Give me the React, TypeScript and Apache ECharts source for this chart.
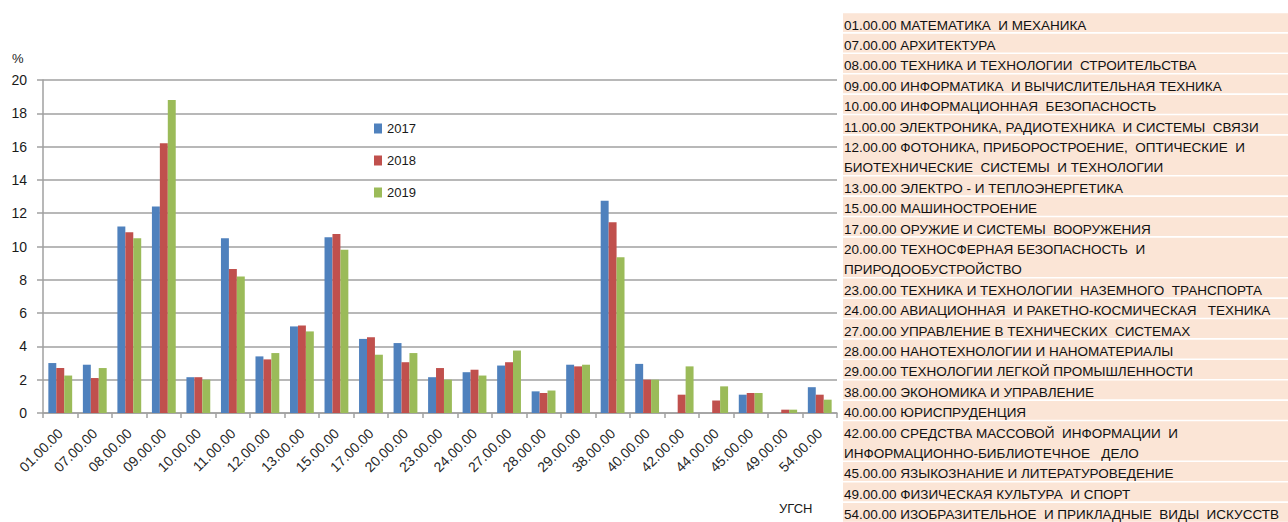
import React, { useEffect, useRef } from "react";
import * as echarts from "echarts";

const categories = [
  "01.00.00", "07.00.00", "08.00.00", "09.00.00", "10.00.00", "11.00.00",
  "12.00.00", "13.00.00", "15.00.00", "17.00.00", "20.00.00", "23.00.00",
  "24.00.00", "27.00.00", "28.00.00", "29.00.00", "38.00.00", "40.00.00",
  "42.00.00", "44.00.00", "45.00.00", "49.00.00", "54.00.00",
];
const values2017 = [3.0, 2.9, 11.2, 12.4, 2.15, 10.5, 3.4, 5.2, 10.55, 4.45, 4.2, 2.15, 2.45, 2.85, 1.3, 2.9, 12.75, 2.95, 0, 0, 1.1, 0, 1.55];
const values2018 = [2.7, 2.1, 10.85, 16.2, 2.15, 8.65, 3.22, 5.25, 10.75, 4.55, 3.05, 2.7, 2.6, 3.05, 1.2, 2.8, 11.45, 2.0, 1.1, 0.75, 1.2, 0.2, 1.1];
const values2019 = [2.25, 2.7, 10.5, 18.8, 2.0, 8.2, 3.6, 4.9, 9.8, 3.5, 3.6, 2.0, 2.25, 3.75, 1.35, 2.9, 9.35, 2.0, 2.8, 1.6, 1.2, 0.2, 0.8];
const seriesNames = ["2017", "2018", "2019"];
const yTicks = { min: 0, max: 20, interval: 2 };

const listLabels = [
  "01.00.00 МАТЕМАТИКА  И МЕХАНИКА",
  "07.00.00 АРХИТЕКТУРА",
  "08.00.00 ТЕХНИКА И ТЕХНОЛОГИИ  СТРОИТЕЛЬСТВА",
  "09.00.00 ИНФОРМАТИКА  И ВЫЧИСЛИТЕЛЬНАЯ ТЕХНИКА",
  "10.00.00 ИНФОРМАЦИОННАЯ  БЕЗОПАСНОСТЬ",
  "11.00.00 ЭЛЕКТРОНИКА, РАДИОТЕХНИКА  И СИСТЕМЫ  СВЯЗИ",
  "12.00.00 ФОТОНИКА, ПРИБОРОСТРОЕНИЕ,  ОПТИЧЕСКИЕ  И\nБИОТЕХНИЧЕСКИЕ  СИСТЕМЫ  И ТЕХНОЛОГИИ",
  "13.00.00 ЭЛЕКТРО - И ТЕПЛОЭНЕРГЕТИКА",
  "15.00.00 МАШИНОСТРОЕНИЕ",
  "17.00.00 ОРУЖИЕ И СИСТЕМЫ  ВООРУЖЕНИЯ",
  "20.00.00 ТЕХНОСФЕРНАЯ БЕЗОПАСНОСТЬ  И\nПРИРОДООБУСТРОЙСТВО",
  "23.00.00 ТЕХНИКА И ТЕХНОЛОГИИ  НАЗЕМНОГО  ТРАНСПОРТА",
  "24.00.00 АВИАЦИОННАЯ  И РАКЕТНО-КОСМИЧЕСКАЯ   ТЕХНИКА",
  "27.00.00 УПРАВЛЕНИЕ В ТЕХНИЧЕСКИХ  СИСТЕМАХ",
  "28.00.00 НАНОТЕХНОЛОГИИ И НАНОМАТЕРИАЛЫ",
  "29.00.00 ТЕХНОЛОГИИ ЛЕГКОЙ ПРОМЫШЛЕННОСТИ",
  "38.00.00 ЭКОНОМИКА И УПРАВЛЕНИЕ",
  "40.00.00 ЮРИСПРУДЕНЦИЯ",
  "42.00.00 СРЕДСТВА МАССОВОЙ  ИНФОРМАЦИИ  И\nИНФОРМАЦИОННО-БИБЛИОТЕЧНОЕ   ДЕЛО",
  "45.00.00 ЯЗЫКОЗНАНИЕ И ЛИТЕРАТУРОВЕДЕНИЕ",
  "49.00.00 ФИЗИЧЕСКАЯ КУЛЬТУРА  И СПОРТ",
  "54.00.00 ИЗОБРАЗИТЕЛЬНОЕ  И ПРИКЛАДНЫЕ  ВИДЫ  ИСКУССТВ",
];

const COLORS = ["#4F81BD", "#C0504D", "#9BBB59"];
const FONT = "'Liberation Sans', Arial, sans-serif";
const GRID_COLOR = "#a0a0a0";

function buildListGraphics() {
  const els: any[] = [];
  const lineH = 20.4;
  const left = 843;
  let y = 13.3;
  listLabels.forEach((label) => {
    const lines = label.split("\n");
    const h = lines.length * lineH;
    els.push({
      type: "rect",
      shape: { x: left, y: y, width: 1288 - left, height: h - 1.6 },
      style: { fill: "#FBE5D6" },
      silent: true,
    });
    lines.forEach((ln, j) => {
      els.push({
        type: "text",
        x: left + 1,
        y: y + j * lineH + lineH / 2 + 1.5,
        style: {
          text: ln,
          font: "13.5px " + FONT,
          fill: "#111111",
          verticalAlign: "middle",
          align: "left",
        },
        silent: true,
      });
    });
    y += h;
  });
  return els;
}

export default function App() {
  const ref = useRef<HTMLDivElement>(null);
  useEffect(() => {
    document.body.style.margin = "0";
    const chart = echarts.init(ref.current!, null, { renderer: "svg" });
    chart.setOption({
      animation: false,
      backgroundColor: "#ffffff",
      textStyle: { fontFamily: FONT },
      grid: { left: 43, right: 451, top: 80, bottom: 109, containLabel: false },
      legend: {
        data: seriesNames,
        orient: "vertical",
        left: 369,
        top: 117,
        itemWidth: 8,
        itemHeight: 10,
        itemGap: 19,
        icon: "rect",
        textStyle: { fontSize: 13, color: "#1a1a1a", fontFamily: FONT },
      },
      xAxis: {
        type: "category",
        data: categories,
        axisLine: { show: true, lineStyle: { color: GRID_COLOR, width: 1.5 } },
        axisTick: { show: true, length: 5, lineStyle: { color: GRID_COLOR, width: 1.5 } },
        axisLabel: {
          interval: 0,
          rotate: 45,
          margin: 18,
          fontSize: 14,
          color: "#262626",
          fontFamily: FONT,
        },
      },
      yAxis: {
        type: "value",
        min: yTicks.min,
        max: yTicks.max,
        interval: yTicks.interval,
        axisLine: { show: true, lineStyle: { color: GRID_COLOR, width: 1.5 } },
        axisTick: { show: true, length: 6, lineStyle: { color: GRID_COLOR, width: 1.5 } },
        axisLabel: { fontSize: 14, color: "#1a1a1a", margin: 16, fontFamily: FONT },
        splitLine: { show: true, lineStyle: { color: GRID_COLOR, width: 1.5 } },
      },
      series: [values2017, values2018, values2019].map((vals, i) => ({
        name: seriesNames[i],
        type: "bar",
        data: vals,
        itemStyle: { color: COLORS[i] },
        barGap: "0%",
        barCategoryGap: "31%",
      })),
      graphic: [
        {
          type: "text",
          left: 12,
          top: 52,
          style: { text: "%", font: "13px " + FONT, fill: "#1a1a1a" },
        },
        {
          type: "text",
          left: 779,
          top: 502,
          style: { text: "УГСН", font: "13px " + FONT, fill: "#1a1a1a" },
        },
        ...buildListGraphics(),
      ],
    });
    return () => chart.dispose();
  }, []);
  return <div ref={ref} style={{ width: 1288, height: 522 }} />;
}
